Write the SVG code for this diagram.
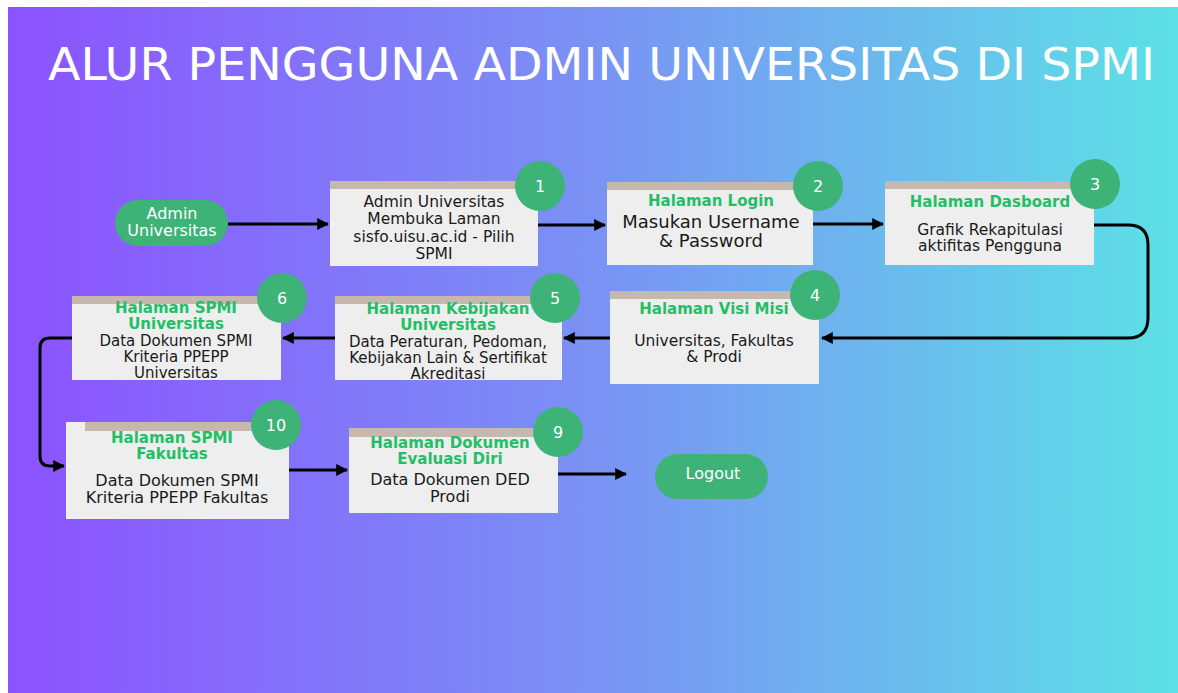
<svg xmlns="http://www.w3.org/2000/svg" width="1178" height="693" viewBox="0 0 1178 693">
<defs>
<linearGradient id="bg" x1="0" y1="0" x2="1" y2="0">
<stop offset="0" stop-color="#8c52ff"/>
<stop offset="0.5" stop-color="#7a92f4"/>
<stop offset="1" stop-color="#5ce1e6"/>
</linearGradient>
<marker id="ah" viewBox="0 0 10 10" refX="9" refY="5" markerWidth="4" markerHeight="4" orient="auto" markerUnits="strokeWidth">
<path d="M0,0 L10,5 L0,10 z" fill="#000"/>
</marker>
<style>
.box{fill:#eeeeee}
.bar{fill:#c7b8ad}
.badge{fill:#3db378}
.num{fill:#ffffff;font-family:"DejaVu Sans",sans-serif;font-size:16px;text-anchor:middle}
.hd{fill:#22bf66;font-family:"DejaVu Sans",sans-serif;font-size:15px;font-weight:bold;text-anchor:middle}
.tx{fill:#1a1a1a;font-family:"DejaVu Sans",sans-serif;font-size:15.5px;text-anchor:middle}
.sm{fill:#1a1a1a;font-family:"DejaVu Sans",sans-serif;font-size:15px;text-anchor:middle}
.big{fill:#1a1a1a;font-family:"DejaVu Sans",sans-serif;font-size:18px;text-anchor:middle}
.md{fill:#1a1a1a;font-family:"DejaVu Sans",sans-serif;font-size:16px;text-anchor:middle}
.pill{fill:#3db378}
.pt{fill:#ffffff;font-family:"DejaVu Sans",sans-serif;font-size:16px;text-anchor:middle}
.ln{fill:none;stroke:#000;stroke-width:3;marker-end:url(#ah)}
</style>
</defs>
<rect x="0" y="0" width="1178" height="693" fill="#ffffff"/>
<rect x="8" y="7" width="1170" height="686" fill="url(#bg)"/>
<text x="48" y="80" fill="#ffffff" font-family="'DejaVu Sans',sans-serif" font-size="44" textLength="1107" lengthAdjust="spacingAndGlyphs">ALUR PENGGUNA ADMIN UNIVERSITAS DI SPMI</text>

<g id="connectors">
<path class="ln" d="M228,224 L328,224"/>
<path class="ln" d="M538,225 L605,225"/>
<path class="ln" d="M813,224 L883,224"/>
<path class="ln" d="M1094,225 L1128,225 Q1148,225 1148,245 L1148,318 Q1148,338 1128,338 L822,338"/>
<path class="ln" d="M610,338 L564,338"/>
<path class="ln" d="M335,338 L283,338"/>
<path class="ln" d="M72,338 L50,338 Q40,338 40,348 L40,456 Q40,466 50,466 L64,466"/>
<path class="ln" d="M289,470 L347,470"/>
<path class="ln" d="M558,474 L626,474"/>
</g>

<g id="start">
<rect class="pill" x="115" y="200" width="113" height="46" rx="23"/>
<text class="pt" x="172" y="219">Admin</text>
<text class="pt" x="172" y="236">Universitas</text>
</g>

<g id="step1">
<rect class="box" x="330" y="181" width="208" height="85"/>
<rect class="bar" x="330" y="181" width="208" height="8"/>
<circle class="badge" cx="540" cy="186" r="25"/>
<text class="num" x="540" y="192">1</text>
<text class="tx" x="434" y="207">Admin Universitas</text>
<text class="tx" x="434" y="224">Membuka Laman</text>
<text class="tx" x="434" y="242">sisfo.uisu.ac.id - Pilih</text>
<text class="tx" x="434" y="259">SPMI</text>
</g>

<g id="step2">
<rect class="box" x="607" y="182" width="206" height="83"/>
<rect class="bar" x="607" y="182" width="206" height="8"/>
<circle class="badge" cx="818" cy="186" r="25"/>
<text class="num" x="818" y="192">2</text>
<text class="hd" x="711" y="206">Halaman Login</text>
<text class="big" x="711" y="228">Masukan Username</text>
<text class="big" x="711" y="247">&amp; Password</text>
</g>

<g id="step3">
<rect class="box" x="885" y="181" width="209" height="84"/>
<rect class="bar" x="885" y="181" width="209" height="8"/>
<circle class="badge" cx="1095" cy="184" r="25"/>
<text class="num" x="1095" y="190">3</text>
<text class="hd" x="990" y="207">Halaman Dasboard</text>
<text class="tx" x="990" y="235">Grafik Rekapitulasi</text>
<text class="tx" x="990" y="251">aktifitas Pengguna</text>
</g>

<g id="step4">
<rect class="box" x="610" y="291" width="209" height="93"/>
<rect class="bar" x="610" y="291" width="209" height="8"/>
<circle class="badge" cx="815" cy="295" r="25"/>
<text class="num" x="815" y="301">4</text>
<text class="hd" x="714" y="314">Halaman Visi Misi</text>
<text class="tx" x="714" y="346">Universitas, Fakultas</text>
<text class="tx" x="714" y="362">&amp; Prodi</text>
</g>

<g id="step5">
<rect class="box" x="335" y="296" width="227" height="84"/>
<rect class="bar" x="335" y="296" width="227" height="8"/>
<circle class="badge" cx="555" cy="298" r="25"/>
<text class="num" x="555" y="304">5</text>
<text class="hd" x="448" y="314">Halaman Kebijakan</text>
<text class="hd" x="448" y="330">Universitas</text>
<text class="sm" x="448" y="347">Data Peraturan, Pedoman,</text>
<text class="sm" x="448" y="363">Kebijakan Lain &amp; Sertifikat</text>
<text class="sm" x="448" y="379">Akreditasi</text>
</g>

<g id="step6">
<rect class="box" x="72" y="296" width="209" height="84"/>
<rect class="bar" x="72" y="296" width="209" height="8"/>
<circle class="badge" cx="282" cy="298" r="25"/>
<text class="num" x="282" y="304">6</text>
<text class="hd" x="176" y="313">Halaman SPMI</text>
<text class="hd" x="176" y="329">Universitas</text>
<text class="sm" x="176" y="346">Data Dokumen SPMI</text>
<text class="sm" x="176" y="362">Kriteria PPEPP</text>
<text class="sm" x="176" y="378">Universitas</text>
</g>

<g id="step10">
<rect class="box" x="66" y="422" width="223" height="97"/>
<rect class="bar" x="85" y="422" width="204" height="9"/>
<circle class="badge" cx="276" cy="425" r="25"/>
<text class="num" x="276" y="431">10</text>
<text class="hd" x="172" y="443">Halaman SPMI</text>
<text class="hd" x="172" y="459">Fakultas</text>
<text class="md" x="177" y="486">Data Dokumen SPMI</text>
<text class="md" x="177" y="503">Kriteria PPEPP Fakultas</text>
</g>

<g id="step9">
<rect class="box" x="349" y="428" width="209" height="85"/>
<rect class="bar" x="349" y="428" width="209" height="9"/>
<circle class="badge" cx="558" cy="432" r="25"/>
<text class="num" x="558" y="438">9</text>
<text class="hd" x="450" y="448">Halaman Dokumen</text>
<text class="hd" x="450" y="464">Evaluasi Diri</text>
<text class="md" x="450" y="485">Data Dokumen DED</text>
<text class="md" x="450" y="502">Prodi</text>
</g>

<g id="logout">
<rect class="pill" x="655" y="454" width="113" height="45" rx="22.5"/>
<text class="pt" x="713" y="479">Logout</text>
</g>
</svg>
